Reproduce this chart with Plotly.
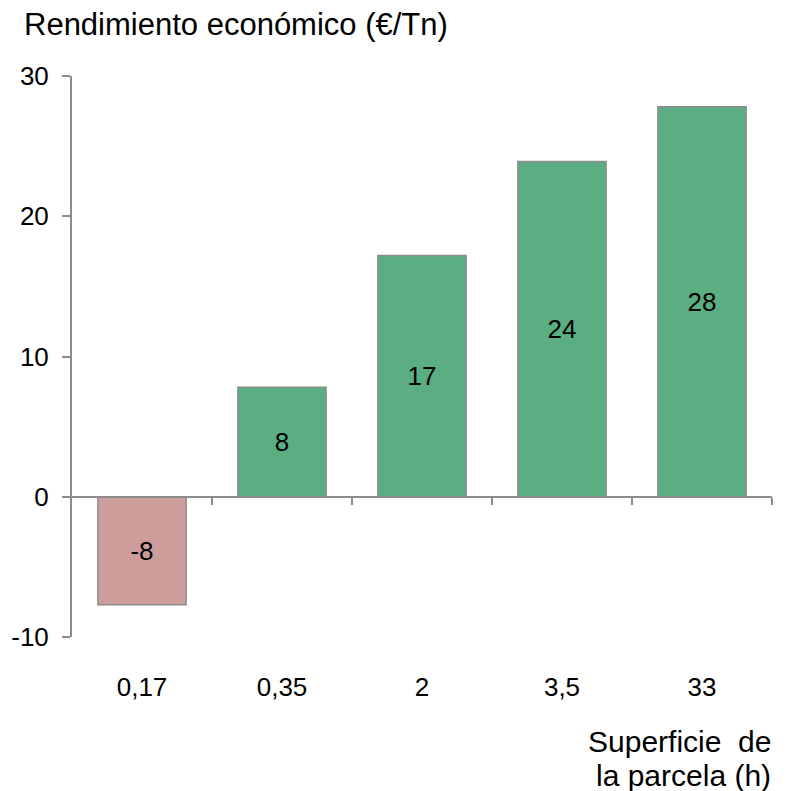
import plotly.graph_objects as go

categories = ['0,17', '0,35', '2', '3,5', '33']
rendimiento = [-7.7, 7.8, 17.2, 23.9, 27.8]
bar_labels = ['-8', '8', '17', '24', '28']
y_ticks = [-10, 0, 10, 20, 30]
y_tick_text = ['-10', '0', '10', '20', '30']

GREEN = '#5aae82'
RED = '#cd9d9c'
AXIS_COLOR = '#8c8c8c'
FONT = 'Liberation Sans, Arial, sans-serif'

colors = [RED if v < 0 else GREEN for v in rendimiento]

fig = go.Figure()

fig.add_trace(go.Bar(
    x=categories,
    y=rendimiento,
    text=bar_labels,
    textposition='inside',
    insidetextanchor='middle',
    textangle=0,
    textfont=dict(color='black', size=26, family=FONT),
    marker=dict(color=colors, line=dict(color=AXIS_COLOR, width=1.5)),
    width=0.63,
    hoverinfo='x+y',
))

# invisible helper trace so the zero-line axis with its ticks gets drawn
fig.add_trace(go.Scatter(x=[0], y=[0], xaxis='x2', mode='markers',
                         marker=dict(opacity=0), hoverinfo='skip'))

fig.update_layout(
    width=787,
    height=791,
    margin=dict(l=72, r=15, t=76, b=154),
    plot_bgcolor='white',
    paper_bgcolor='white',
    showlegend=False,
    font=dict(family=FONT, size=26, color='black'),
    xaxis=dict(
        showline=False,
        ticks='',
        showgrid=False,
        zeroline=False,
        ticklabelstandoff=32,
        tickfont=dict(size=26),
    ),
    xaxis2=dict(
        overlaying='x',
        anchor='free',
        position=0.25,
        range=[-0.5, 4.5],
        tickvals=[0.5, 1.5, 2.5, 3.5, 4.5],
        showticklabels=False,
        ticks='outside',
        ticklen=7,
        tickwidth=1.5,
        tickcolor=AXIS_COLOR,
        showline=True,
        linecolor=AXIS_COLOR,
        linewidth=2,
        showgrid=False,
        zeroline=False,
    ),
    yaxis=dict(
        range=[-10, 30],
        tickvals=y_ticks,
        ticktext=y_tick_text,
        showline=True,
        linecolor=AXIS_COLOR,
        linewidth=2,
        ticks='outside',
        ticklen=8,
        tickwidth=1.5,
        tickcolor=AXIS_COLOR,
        ticklabelstandoff=8,
        showgrid=False,
        zeroline=False,
        tickfont=dict(size=26),
    ),
    annotations=[
        dict(text='Rendimiento económico (€/Tn)', xref='paper', yref='paper',
             x=-0.0714, y=1.091, xanchor='left', yanchor='middle',
             showarrow=False, font=dict(size=31)),
        dict(text='Superficie\u00a0 de', xref='paper', yref='paper',
             x=1.002, y=-0.186, xanchor='right', yanchor='middle',
             showarrow=False, font=dict(size=30)),
        dict(text='la parcela (h)', xref='paper', yref='paper',
             x=1.002, y=-0.246, xanchor='right', yanchor='middle',
             showarrow=False, font=dict(size=30)),
    ],
)

fig.write_html('out.html', config={'displayModeBar': False},
               post_script="document.body.style.margin='0';")
